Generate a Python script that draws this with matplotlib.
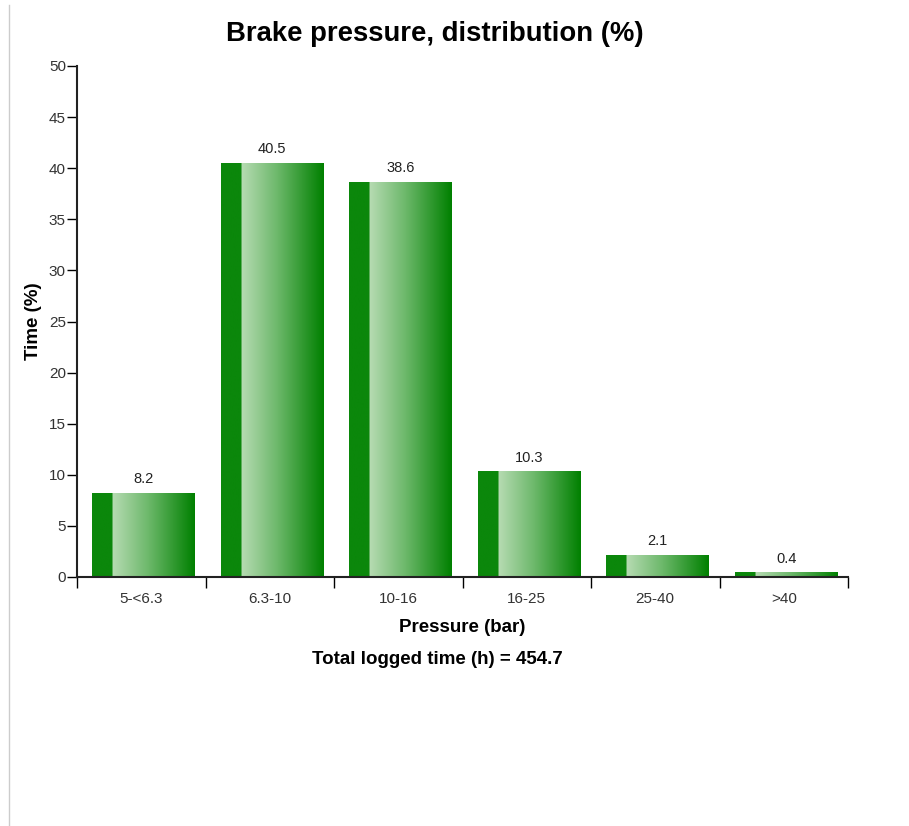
import matplotlib
matplotlib.use('Agg')
import matplotlib.pyplot as plt
import numpy as np
from matplotlib.colors import LinearSegmentedColormap
from matplotlib.lines import Line2D

plt.rcParams['font.family'] = ['Liberation Sans', 'DejaVu Sans']

categories = ['5-<6.3', '6.3-10', '10-16', '16-25', '25-40', '>40']
values = [8.2, 40.5, 38.6, 10.3, 2.1, 0.4]
total_hours = 454.7

# dark stripe on the left, then light -> dark green
bar_cmap = LinearSegmentedColormap.from_list('bar', [
    (0.0, '#0b870b'), (0.199, '#0b870b'),
    (0.2, '#b6dbb2'), (0.55, '#6cb86a'), (1.0, '#008000'),
])

fig = plt.figure(figsize=(9.09, 8.26), dpi=100)
ax = fig.add_axes([77 / 909, 1 - 577 / 826, (848 - 77) / 909, (577 - 66) / 826])

x = np.arange(len(categories))
width = 0.8
grad = np.linspace(0, 1, 256).reshape(1, -1)
for xi, v in zip(x, values):
    ax.imshow(grad, cmap=bar_cmap, aspect='auto', interpolation='bilinear',
              extent=[xi - width / 2 + 0.02, xi + width / 2 + 0.02, 0, v], zorder=2)
    ax.text(xi + 0.02, v + 0.7, f'{v:.1f}', ha='center', va='bottom', fontsize=10.5, color='#222222')

ax.set_xlim(-0.5, len(categories) - 0.5)
ax.set_ylim(0, 50)
ax.set_yticks(np.arange(0, 51, 5))
ax.set_xticks(x)
ax.set_xticklabels(categories, fontsize=11, color='#333333')
ax.set_xticks(np.arange(-0.5, len(categories), 1), minor=True)
ax.tick_params(axis='x', which='major', length=0, pad=11)
ax.tick_params(axis='x', which='minor', length=8, width=1, direction='out')
ax.tick_params(axis='y', labelsize=11, labelcolor='#333333', length=7, width=1, pad=1)

for side in ['top', 'right']:
    ax.spines[side].set_visible(False)
for side in ['left', 'bottom']:
    ax.spines[side].set_linewidth(1.5)
    ax.spines[side].set_color('#222222')

ax.set_xlabel('Pressure (bar)', fontsize=13.5, fontweight='bold', labelpad=9)
ax.set_ylabel('Time (%)', fontsize=13.5, fontweight='bold', va='center')
ax.yaxis.set_label_coords((33 - 77) / 771, 0.5)
fig.text(435 / 909, 1 - 34 / 826, 'Brake pressure, distribution (%)', ha='center', va='center',
         fontsize=19.8, fontweight='bold')
fig.text(437 / 909, 1 - 659 / 826, f'Total logged time (h) = {total_hours}', ha='center', va='center',
         fontsize=13.5, fontweight='bold')

fig.add_artist(Line2D([9 / 909, 9 / 909], [0, 1 - 5 / 826], transform=fig.transFigure,
                      color='#cccccc', linewidth=1))

fig.savefig('out.png', dpi=100)
